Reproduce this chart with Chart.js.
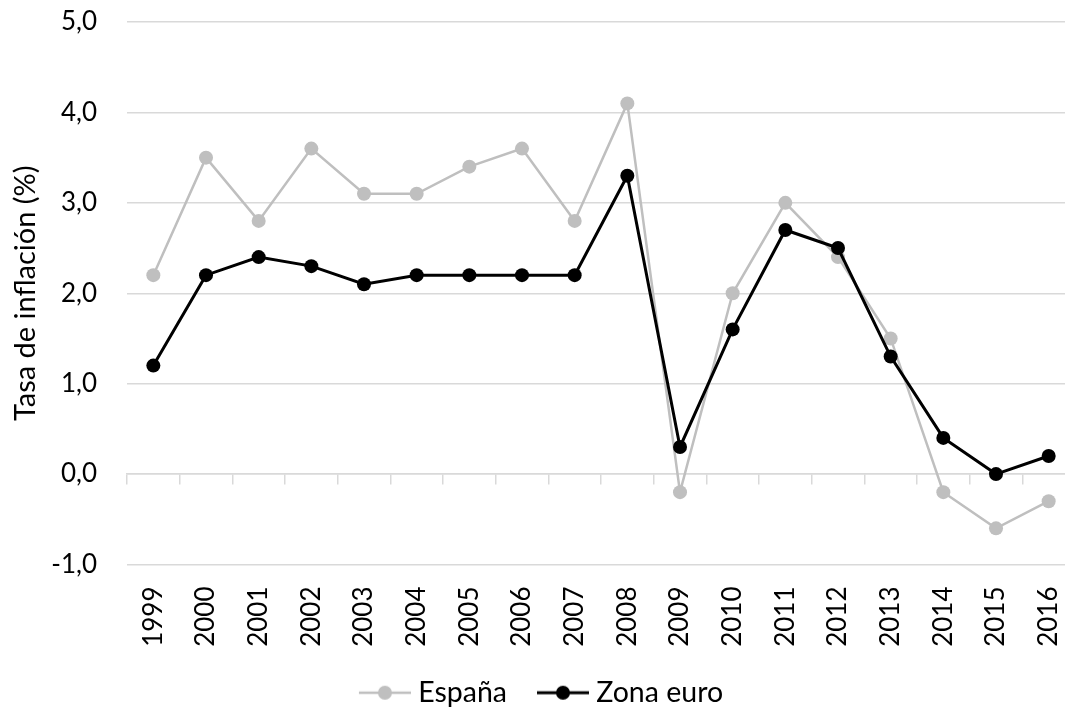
<!DOCTYPE html>
<html>
<head>
<meta charset="utf-8">
<script src="https://cdn.jsdelivr.net/npm/chart.js@4/dist/chart.umd.min.js"></script>
<style>
  html, body { margin: 0; padding: 0; background: #fff; overflow: hidden; }
  canvas { display: block; }
</style>
</head>
<body>
<canvas id="c" width="1082" height="711"></canvas>
<script>
const years = ['1999','2000','2001','2002','2003','2004','2005','2006','2007','2008','2009','2010','2011','2012','2013','2014','2015','2016'];
const espana = [2.2, 3.5, 2.8, 3.6, 3.1, 3.1, 3.4, 3.6, 2.8, 4.1, -0.2, 2.0, 3.0, 2.4, 1.5, -0.2, -0.6, -0.3];
const zonaEuro = [1.2, 2.2, 2.4, 2.3, 2.1, 2.2, 2.2, 2.2, 2.2, 3.3, 0.3, 1.6, 2.7, 2.5, 1.3, 0.4, 0.0, 0.2];
const yTicks = [-1, 0, 1, 2, 3, 4, 5];
const seriesNames = ['España', 'Zona euro'];

const FONT = 'Lato';
const GRAY = '#bfbfbf';
const GRID = '#d9d9d9';

// legend icon: line with a dot (drawn as a canvas point style)
function legendIcon(color, lw) {
  const c = document.createElement('canvas');
  c.width = 59; c.height = 16;
  const g = c.getContext('2d');
  g.strokeStyle = color; g.lineWidth = lw;
  g.beginPath(); g.moveTo(7, 8); g.lineTo(59, 8); g.stroke();
  g.fillStyle = color;
  g.beginPath(); g.arc(33, 8, 7, 0, Math.PI * 2); g.fill();
  return c;
}
const icons = [legendIcon(GRAY, 2.5), legendIcon('#000', 3)];

new Chart(document.getElementById('c'), {
  type: 'line',
  data: {
    labels: years,
    datasets: [
      {
        label: seriesNames[0], data: espana, order: 2,
        borderColor: GRAY, backgroundColor: GRAY, borderWidth: 2.5,
        pointRadius: 7, pointHoverRadius: 7, pointBackgroundColor: GRAY, pointBorderWidth: 0,
        pointStyle: 'circle', tension: 0
      },
      {
        label: seriesNames[1], data: zonaEuro, order: 1,
        borderColor: '#000', backgroundColor: '#000', borderWidth: 3,
        pointRadius: 7, pointHoverRadius: 7, pointBackgroundColor: '#000', pointBorderWidth: 0,
        pointStyle: 'circle', tension: 0
      }
    ]
  },
  options: {
    responsive: false,
    animation: false,
    layout: { padding: { top: 22, left: 0, right: 0, bottom: -6 } },
    plugins: {
      tooltip: { enabled: false },
      legend: {
        position: 'bottom',
        labels: {
          font: { family: FONT, size: 28.5 },
          color: '#000',
          usePointStyle: true,
          pointStyleWidth: 45,
          boxHeight: 16,
          padding: 30,
          generateLabels: (chart) => chart.data.datasets.map((ds, i) => ({
            text: ds.label, datasetIndex: i, pointStyle: icons[i],
            fillStyle: ds.borderColor, strokeStyle: ds.borderColor, lineWidth: 0,
            fontColor: '#000', hidden: false
          }))
        }
      }
    },
    scales: {
      x: {
        type: 'category',
        offset: true,
        afterFit: (s) => { s.height = 84; s.paddingLeft = 0; s.paddingRight = 0; },
        grid: { display: false, drawTicks: false },
        border: { display: false },
        ticks: {
          font: { family: FONT, size: 26 }, color: '#000',
          maxRotation: 90, minRotation: 90, padding: 22, autoSkip: false
        }
      },
      x2: {
        type: 'category',
        labels: years,
        position: { y: 0 },
        offset: true,
        grid: { display: true, offset: true, drawOnChartArea: false, drawTicks: true, tickLength: 10, color: GRID, lineWidth: 1.5 },
        border: { display: true, color: GRID, width: 1.5 },
        ticks: { display: false }
      },
      y: {
        min: -1, max: 5,
        afterBuildTicks: (s) => { s.ticks = yTicks.map(v => ({ value: v })); },
        afterFit: (s) => { s.width = 127; s.paddingTop = 0; s.paddingBottom = 0; },
        grid: { color: GRID, lineWidth: 1.5, drawTicks: false },
        border: { display: false },
        ticks: {
          font: { family: FONT, size: 26 }, color: '#000', padding: 30,
          callback: (v) => v.toFixed(1).replace('.', ',')
        },
        title: {
          display: true, text: 'Tasa de inflación (%)',
          font: { family: FONT, size: 29 }, color: '#000',
          padding: { top: 8, bottom: 0 }
        }
      }
    }
  }
});
</script>
</body>
</html>
